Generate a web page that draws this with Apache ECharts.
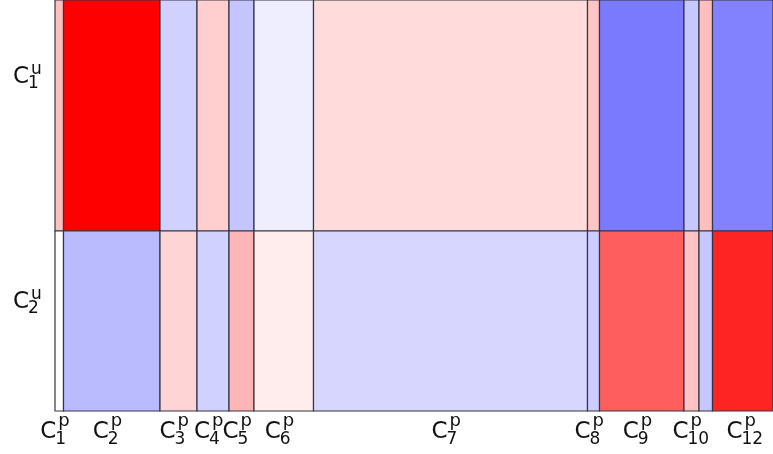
<!DOCTYPE html>
<html>
<head>
<meta charset="utf-8">
<script src="https://cdn.jsdelivr.net/npm/echarts@6/dist/echarts.min.js"></script>
<style>
html,body{margin:0;padding:0;background:#fff;}
#chart{width:773px;height:454px;}
</style>
</head>
<body>
<div id="chart"></div>
<script>
// Column cluster sizes (C1^p ... C12^p)
var colWidths = [8.5, 96.5, 37, 32, 25, 59.5, 274, 12, 84.5, 15, 13.5, 66];
// Column label subscripts (C11 label hidden in reference due to overlap)
var colSubs = ['1','2','3','4','5','6','7','8','9','10','','12'];
// Row cluster sizes (C1^u top, C2^u bottom)
var rowSizes = [270, 180];
var rowSubs = ['1','2'];
// Cell values per row (bwr scale -1..1)
var rowValues1 = [0.25, 1.0, -0.18, 0.19, -0.23, -0.065, 0.14, 0.23, -0.52, -0.22, 0.25, -0.49];
var rowValues2 = [0.0, -0.27, 0.17, -0.18, 0.29, 0.07, -0.16, -0.2, 0.63, 0.24, -0.22, 0.86];

var colStart = [];
var acc = 0;
colWidths.forEach(function(w){ colStart.push(acc); acc += w; });
var rowStart = [];
var racc = 0;
for (var r = rowSizes.length - 1; r >= 0; r--) { rowStart[r] = racc; racc += rowSizes[r]; }

var cells = [];
[rowValues1, rowValues2].forEach(function(vals, ri){
  vals.forEach(function(v, ci){ cells.push([ci, ri, v]); });
});
var xLabelData = colSubs.map(function(s, i){ return [i, s]; });
var yLabelData = rowSubs.map(function(s, i){ return [i, s]; });

var chart = echarts.init(document.getElementById('chart'));
var FONT = '"DejaVu Sans", sans-serif';

function mathLabel(ax, ay, sup, sub, supDx, supDy, subDx, subDy, cSize, supSize, subSize) {
  return {
    type: 'group',
    children: [
      {type:'text', style:{text:'C', x:ax, y:ay, fill:'#111', font:cSize + 'px ' + FONT, textAlign:'right', textVerticalAlign:'middle'}},
      {type:'text', style:{text:sup, x:ax+supDx, y:ay+supDy, fill:'#111', font:supSize + 'px ' + FONT, textAlign:'left', textVerticalAlign:'middle'}},
      {type:'text', style:{text:sub, x:ax+subDx, y:ay+subDy, fill:'#111', font:subSize + 'px ' + FONT, textAlign:'left', textVerticalAlign:'middle'}}
    ]
  };
}

chart.setOption({
  animation: false,
  grid: {left: 55, right: 0, top: 0, bottom: 43},
  xAxis: {type:'value', min:0, max:718, show:false},
  yAxis: {type:'value', min:0, max:411, show:false},
  visualMap: {show:false, type:'continuous', min:-1, max:1, dimension:2, seriesIndex:0,
    inRange:{color:['#0000ff','#ffffff','#ff0000']}},
  series: [
    {
      type:'custom',
      data: cells,
      renderItem: function(params, api){
        var ci = api.value(0), ri = api.value(1);
        var p0 = api.coord([colStart[ci], rowStart[ri] + rowSizes[ri]]);
        var p1 = api.coord([colStart[ci] + colWidths[ci], rowStart[ri]]);
        var shape = echarts.graphic.clipRectByRect(
          {x:p0[0], y:p0[1], width:p1[0]-p0[0], height:p1[1]-p0[1]},
          {x:params.coordSys.x, y:params.coordSys.y, width:params.coordSys.width, height:params.coordSys.height});
        if (!shape) return;
        return {type:'rect', shape:shape, style:{fill:api.visual('color'), stroke:'#353545', lineWidth:1.2}};
      }
    },
    {
      type:'custom',
      data: xLabelData,
      renderItem: function(params, api){
        var ci = api.value(0);
        var sub = colSubs[ci];
        if (!sub) return;
        var p = api.coord([colStart[ci] + colWidths[ci]/2, 0]);
        return mathLabel(p[0] - 3, p[1] + 21, 'p', sub, 2, -11, -1, 8, 23, 18, 17);
      }
    },
    {
      type:'custom',
      data: yLabelData,
      renderItem: function(params, api){
        var ri = api.value(0);
        var p = api.coord([0, rowStart[ri] + rowSizes[ri]/2]);
        return mathLabel(p[0] - 26, p[1] - 19, 'u', rowSubs[ri], 2, -7, -1, 7, 23, 17, 17);
      }
    }
  ]
});
</script>
</body>
</html>
